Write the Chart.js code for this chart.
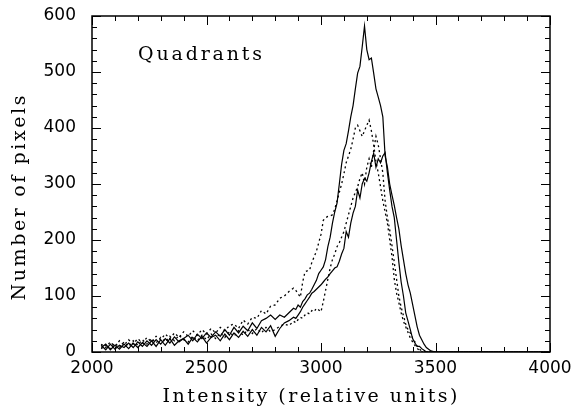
<!DOCTYPE html>
<html>
<head>
<meta charset="utf-8">
<script src="https://cdn.jsdelivr.net/npm/chart.js@4/dist/chart.umd.min.js"></script>
<style>
html,body{margin:0;padding:0;background:#fff;}
#c{display:block;}
</style>
</head>
<body>
<canvas id="c" width="573" height="420"></canvas>
<script>
// Intensity bin positions (relative units)
const xs = [2040,2060,2080,2100,2120,2140,2160,2180,2200,2220,2240,2260,2280,2300,2320,2340,2360,2380,2400,2420,2440,2460,2480,2500,2520,2540,2560,2580,2600,2620,2640,2660,2680,2700,2720,2740,2760,2780,2800,2820,2840,2860,2880,
2890,2900,2910,2920,2930,2940,2950,2960,2970,2980,2990,3000,3010,3020,3030,3040,3050,3060,3070,3080,3090,3100,3110,3120,3130,3140,3150,3160,3170,3180,3190,3200,3210,3220,3230,3240,3250,3260,3270,3280,3290,3300,3310,3320,3330,3340,3350,3360,3370,3380,3390,3400,3410,3420,3430,3440,3450,3460,
3480,3500,4000];

// Quadrant A (solid, tallest)
const quadA = [12,4,14,5,12,8,16,8,18,10,20,12,22,14,24,16,27,18,24,30,20,32,24,34,26,36,28,40,30,44,34,46,38,52,42,56,60,66,58,66,62,70,78,
76,84,80,90,95,102,105,112,120,128,140,146,152,165,188,205,230,250,266,300,335,360,372,395,420,440,470,498,510,545,582,540,522,525,498,470,455,440,420,350,330,300,280,262,240,220,190,165,140,120,105,85,65,45,30,22,14,8,
2,0,0];

// Quadrant B (solid)
const quadB = [8,14,4,12,5,14,6,16,8,17,10,20,10,22,12,24,12,20,24,14,26,18,28,16,26,30,20,32,22,34,26,37,28,40,30,44,36,47,28,42,52,56,62,
60,66,72,80,86,92,98,105,108,112,116,120,125,130,134,140,145,150,152,162,175,185,215,205,230,248,260,289,275,300,310,305,320,340,355,330,345,338,350,356,320,289,260,240,200,160,125,100,70,55,40,24,16,10,10,6,3,0,
0,0,0];

// Quadrant C (dotted, rises first)
const quadC = [14,8,18,10,20,12,22,14,24,16,26,18,28,22,32,24,34,26,36,28,38,30,40,32,42,34,44,38,47,50,42,57,50,62,60,74,68,82,84,96,100,108,114,
110,104,98,125,143,145,146,160,170,180,195,210,235,240,242,243,245,255,270,285,300,318,338,350,362,380,400,405,395,385,395,405,414,395,370,340,320,295,270,250,230,200,170,130,105,88,70,55,45,35,25,18,12,6,3,0,0,0,
0,0,0];

// Quadrant D (dotted)
const quadD = [6,12,6,16,8,18,10,20,12,22,14,24,16,26,18,28,20,30,22,18,28,20,30,22,32,24,34,26,36,28,38,30,40,33,42,34,44,36,40,46,50,47,55,
52,58,62,60,66,70,68,74,72,78,75,72,90,110,130,150,165,175,188,195,205,215,230,245,260,275,285,295,310,320,300,330,345,330,360,385,370,345,320,270,240,218,190,160,130,100,80,65,50,40,34,25,18,10,5,2,0,0,
0,0,0];

const xTickLabels = ['2000','2500','3000','3500','4000'];
const yTickLabels = ['0','100','200','300','400','500','600'];
const xTitle = 'Intensity (relative units)';
const yTitle = 'Number of pixels';
const panelLabel = 'Quadrants';

function pts(ys){ return xs.map((x,i)=>({x:x, y:ys[i]})); }

function spacedText(ctx, text, cx, cy, target){
  const w = ctx.measureText(text).width;
  let sp = (target - w) / Math.max(1, text.length - 1);
  if (sp < 0) sp = 0;
  const total = w + sp * (text.length - 1);
  let x = cx - total / 2;
  ctx.textAlign = 'left';
  for (const ch of text){
    ctx.fillText(ch, x, cy);
    x += ctx.measureText(ch).width + sp;
  }
}

const framePlugin = {
  id: 'frame',
  afterDatasetsDraw(chart){
    const ctx = chart.ctx;
    const a = chart.chartArea;
    const xs_ = chart.scales.x, ys_ = chart.scales.y;
    ctx.save();
    ctx.strokeStyle = '#000';
    ctx.lineWidth = 1.5;
    ctx.strokeRect(a.left, a.top, a.right - a.left, a.bottom - a.top);
    ctx.lineWidth = 1;
    ctx.beginPath();
    for (let v = 2000; v <= 4000; v += 100){
      const px = Math.round(xs_.getPixelForValue(v)) + 0.5;
      const len = (v % 500 === 0) ? 9 : 5;
      ctx.moveTo(px, a.bottom); ctx.lineTo(px, a.bottom - len);
      ctx.moveTo(px, a.top); ctx.lineTo(px, a.top + len);
    }
    for (let v = 0; v <= 600; v += 20){
      const py = Math.round(ys_.getPixelForValue(v)) + 0.5;
      const len = (v % 100 === 0) ? 9 : 5;
      ctx.moveTo(a.left, py); ctx.lineTo(a.left + len, py);
      ctx.moveTo(a.right, py); ctx.lineTo(a.right - len, py);
    }
    ctx.stroke();

    ctx.fillStyle = '#000';
    ctx.font = '19px "DejaVu Serif"';
    ctx.textBaseline = 'middle';
    spacedText(ctx, xTitle, 310, 397, 295);
    spacedText(ctx, panelLabel, 200, 55, 124);
    ctx.save();
    ctx.translate(20, 198);
    ctx.rotate(-Math.PI / 2);
    spacedText(ctx, yTitle, 0, 0, 205);
    ctx.restore();
    ctx.restore();
  }
};

const tickFont = {family: '"DejaVu Sans", sans-serif', size: 17};

new Chart(document.getElementById('c'), {
  type: 'line',
  data: {
    datasets: [
      {label:'A', data: pts(quadA), borderColor:'#000', borderWidth:1.2, pointRadius:0, tension:0, fill:false},
      {label:'B', data: pts(quadB), borderColor:'#000', borderWidth:1.2, pointRadius:0, tension:0, fill:false},
      {label:'C', data: pts(quadC), borderColor:'#000', borderWidth:1.3, borderDash:[2,3], pointRadius:0, tension:0, fill:false},
      {label:'D', data: pts(quadD), borderColor:'#000', borderWidth:1.3, borderDash:[2,3], pointRadius:0, tension:0, fill:false}
    ]
  },
  options: {
    responsive: false,
    animation: false,
    devicePixelRatio: 1,
    layout: {padding: {left: 0, right: 23, top: 16, bottom: 0}},
    plugins: {legend: {display: false}, tooltip: {enabled: false}},
    scales: {
      x: {
        type: 'linear', min: 2000, max: 4000,
        grid: {display: false, drawTicks: false},
        border: {display: false},
        ticks: {
          stepSize: 500, color: '#000', font: tickFont, padding: 6, maxRotation: 0,
          callback: (v) => { const i = xTickLabels.indexOf(String(v)); return i >= 0 ? xTickLabels[i] : null; }
        },
        afterFit: (s) => { s.height = 68; s.paddingLeft = 0; s.paddingRight = 0; }
      },
      y: {
        type: 'linear', min: 0, max: 600,
        grid: {display: false, drawTicks: false},
        border: {display: false},
        ticks: {
          stepSize: 100, color: '#000', font: tickFont, padding: 16,
          callback: (v) => { const i = yTickLabels.indexOf(String(v)); return i >= 0 ? yTickLabels[i] : null; }
        },
        afterFit: (s) => { s.width = 92; s.paddingTop = 0; s.paddingBottom = 0; }
      }
    }
  },
  plugins: [framePlugin]
});
</script>
</body>
</html>
